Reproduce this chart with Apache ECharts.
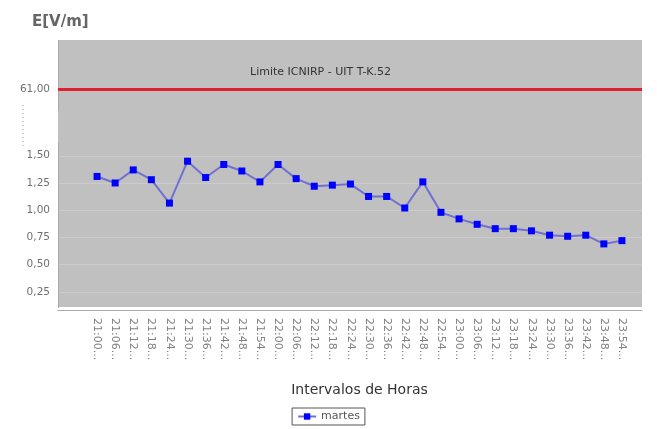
<!DOCTYPE html>
<html>
<head>
<meta charset="utf-8">
<script src="https://cdn.jsdelivr.net/npm/echarts@6/dist/echarts.min.js"></script>
<style>html,body{margin:0;padding:0;background:#fff}#c{width:657px;height:429px}</style>
</head>
<body>
<div id="c"></div>
<script>
const categories = ['21:00','21:06','21:12','21:18','21:24','21:30','21:36','21:42','21:48','21:54',
  '22:00','22:06','22:12','22:18','22:24','22:30','22:36','22:42','22:48','22:54',
  '23:00','23:06','23:12','23:18','23:24','23:30','23:36','23:42','23:48','23:54'];
const martes = [1.31,1.25,1.37,1.28,1.065,1.45,1.30,1.42,1.36,1.26,
  1.42,1.29,1.22,1.23,1.24,1.126,1.126,1.02,1.26,0.98,
  0.92,0.87,0.83,0.83,0.81,0.77,0.76,0.77,0.69,0.72];
const yTicks = [0.25,0.5,0.75,1.0,1.25,1.5,61];
const limitValue = 61;
const limitLabel = 'Limite ICNIRP - UIT T-K.52';

const FONT = 'DejaVu Sans';
const yMin = 0.11, yMax = 61.45;
const yBreaks = [{start: 1.62, end: 60.8, gap: 0.294}];

const chart = echarts.init(document.getElementById('c'));
chart.setOption({
  animation: false,
  backgroundColor: '#ffffff',
  title: {
    text: 'E[V/m]', left: 27, top: 10,
    textStyle: {fontFamily: FONT, fontSize: 15, fontWeight: 'bold', color: '#666'}
  },
  legend: {
    data: ['martes'], bottom: 4, left: 'center',
    borderColor: '#555', borderWidth: 1, padding: [3, 5],
    itemWidth: 18, itemHeight: 8, itemGap: 4,
    textStyle: {fontFamily: FONT, fontSize: 11, color: '#555'}
  },
  grid: [
    {left: 58, right: 15, top: 40, bottom: 122, show: true, backgroundColor: '#c0c0c0', borderWidth: 0},
    {left: 88, right: 26, top: 40, bottom: 122}
  ],
  xAxis: [
    {gridIndex: 0, type: 'value', min: 0, max: 1, axisLine: {show: true, onZero: false, lineStyle: {color: '#aaa'}}, offset: 3,
     axisTick: {show: false}, axisLabel: {show: false}, splitLine: {show: false}},
    {gridIndex: 1, type: 'category', data: categories, boundaryGap: true,
     axisLine: {show: false}, axisTick: {show: false},
     axisLabel: {rotate: -90, interval: 0, margin: 11, fontFamily: FONT, fontSize: 11, color: '#808080',
       formatter: v => v + '...'},
     name: 'Intervalos de Horas', nameLocation: 'middle', nameGap: 76,
     nameTextStyle: {fontFamily: FONT, fontSize: 14, color: '#333'}}
  ],
  yAxis: [
    {gridIndex: 0, type: 'value', min: yMin, max: yMax, breaks: yBreaks,
     breakArea: {show: false},
     axisLine: {show: true, lineStyle: {color: '#aaa'}}, offset: 3,
     axisTick: {show: false, customValues: yTicks},
     axisLabel: {customValues: yTicks, fontFamily: FONT, fontSize: 10.5, color: '#707070', margin: 5,
       formatter: v => v.toFixed(2).replace('.', ',')},
     splitLine: {show: true, lineStyle: {color: '#cbcbcb', width: 1}}},
    {gridIndex: 1, type: 'value', min: yMin, max: yMax, breaks: yBreaks,
     breakArea: {show: false}, show: false, splitLine: {show: false}}
  ],
  series: [
    {
      name: 'limite', type: 'line', xAxisIndex: 0, yAxisIndex: 0, data: [],
      markLine: {
        silent: true, symbol: ['none', 'none'],
        lineStyle: {color: '#e0202c', width: 3, type: 'solid'},
        label: {show: true, position: 'insideStartTop', distance: [192, 11], formatter: limitLabel,
          fontFamily: FONT, fontSize: 11, color: '#333'},
        data: [{yAxis: limitValue}]
      }
    },
    {
      name: 'martes', type: 'line', xAxisIndex: 1, yAxisIndex: 1, data: martes,
      symbol: 'rect', symbolSize: 7,
      itemStyle: {color: '#0000ff'},
      lineStyle: {color: '#7070d0', width: 2}
    }
  ],
  graphic: [
    {type: 'line', shape: {x1: 23, y1: 105, x2: 23, y2: 147},
     style: {stroke: '#999', lineWidth: 1, lineDash: [1, 3]}}
  ]
});
</script>
</body>
</html>
